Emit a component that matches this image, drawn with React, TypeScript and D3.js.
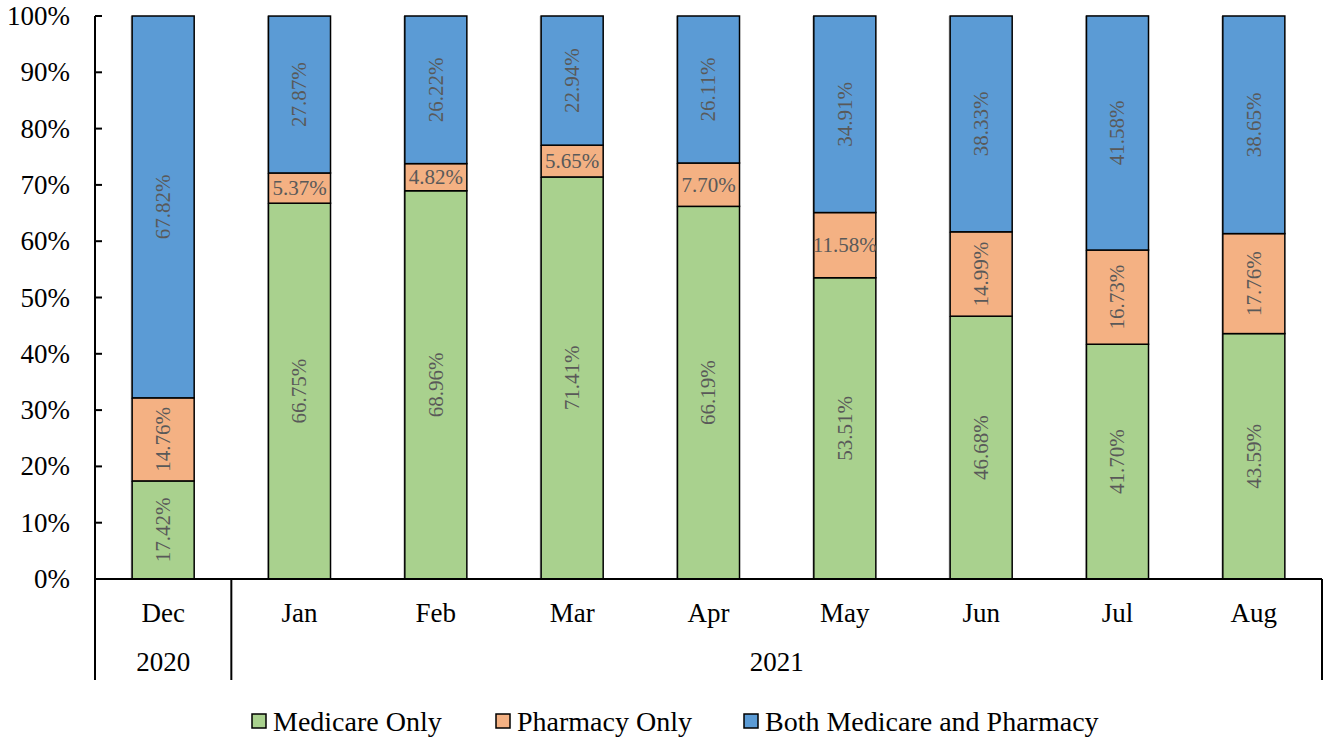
import React from 'react';
import * as d3 from 'd3';

const months = ['Dec', 'Jan', 'Feb', 'Mar', 'Apr', 'May', 'Jun', 'Jul', 'Aug'];
const years = [
  { label: '2020', from: 'Dec', to: 'Dec' },
  { label: '2021', from: 'Jan', to: 'Aug' },
];
const medicareOnly = [17.42, 66.75, 68.96, 71.41, 66.19, 53.51, 46.68, 41.7, 43.59];
const pharmacyOnly = [14.76, 5.37, 4.82, 5.65, 7.7, 11.58, 14.99, 16.73, 17.76];
const bothMedicarePharmacy = [67.82, 27.87, 26.22, 22.94, 26.11, 34.91, 38.33, 41.58, 38.65];
const yTicks = [0, 10, 20, 30, 40, 50, 60, 70, 80, 90, 100];

const seriesNames = ['Medicare Only', 'Pharmacy Only', 'Both Medicare and Pharmacy'];
const seriesColors = ['#A9D18E', '#F4B183', '#5B9BD5'];

const W = 1332;
const H = 745;
const margin = { top: 16, right: 10, bottom: 166, left: 95 };
const font = '"Liberation Serif", "Times New Roman", serif';

export default function App() {
  const width = W - margin.left - margin.right;
  const height = H - margin.top - margin.bottom;

  const rows = months.map((m, i) => ({
    month: m,
    s0: medicareOnly[i],
    s1: pharmacyOnly[i],
    s2: bothMedicarePharmacy[i],
  }));
  const stack = d3.stack<any>().keys(['s0', 's1', 's2'])(rows);

  const x = d3.scaleBand().domain(months).range([0, width]).paddingInner(0.545).paddingOuter(0.2725);
  const y = d3.scaleLinear().domain([0, 100]).range([height, 0]);
  const step = x.step();
  const edge = (m: string) => (x(m) as number) - (step - x.bandwidth()) / 2;

  // legend swatch positions
  const legendX = [252, 496, 744];

  return (
    <svg width={W} height={H} style={{ position: 'absolute', left: 0, top: 0, background: '#fff' }}>
      <g transform={`translate(${margin.left},${margin.top})`}>
        {/* bars */}
        {stack.map((layer, si) => (
          <g key={si}>
            {layer.map((d, i) => {
              const bx = x(months[i]) as number;
              const y0 = y(d[1]);
              const h = y(d[0]) - y(d[1]);
              return (
                <g key={i}>
                  <rect x={bx - 1.5} y={y0} width={x.bandwidth()} height={h} fill="#bfbfbf" />
                  <rect x={bx} y={y0} width={x.bandwidth()} height={h}
                    fill={seriesColors[si]} stroke="#000" strokeWidth={1.5} />
                </g>
              );
            })}
          </g>
        ))}
        {/* data labels */}
        {stack.map((layer, si) => (
          <g key={'l' + si}>
            {layer.map((d, i) => {
              const v = d[1] - d[0];
              const cx = (x(months[i]) as number) + x.bandwidth() / 2;
              const cy = (y(d[0]) + y(d[1])) / 2;
              const rotate = v > 12;
              return (
                <text key={i} x={cx} y={cy} fill="#595959" fontSize={21} fontFamily={font}
                  textAnchor="middle" dominantBaseline="central"
                  transform={rotate ? `rotate(-90,${cx},${cy})` : undefined}>
                  {v.toFixed(2)}%
                </text>
              );
            })}
          </g>
        ))}
        {/* y axis */}
        <line x1={0} x2={0} y1={0} y2={height} stroke="#000" strokeWidth={2} />
        {yTicks.map((t) => (
          <g key={t} transform={`translate(0,${y(t)})`}>
            <line x1={0} x2={7} stroke="#000" strokeWidth={2} />
            <text x={-25} fontSize={27} fontFamily={font} textAnchor="end" dominantBaseline="central">
              {t}%
            </text>
          </g>
        ))}
        {/* category axis */}
        <line x1={0} x2={width} y1={height} y2={height} stroke="#000" strokeWidth={2} />
        {months.map((m) => (
          <text key={m} x={(x(m) as number) + x.bandwidth() / 2} y={height + 34}
            fontSize={27} fontFamily={font} textAnchor="middle" dominantBaseline="central">
            {m}
          </text>
        ))}
        {years.map((yr, i) => {
          const a = edge(yr.from);
          const b = edge(yr.to) + step;
          return (
            <g key={yr.label}>
              {i === 0 && <line x1={a} x2={a} y1={height} y2={height + 101} stroke="#000" strokeWidth={2} />}
              <line x1={b} x2={b} y1={height} y2={height + 101} stroke="#000" strokeWidth={2} />
              <text x={(a + b) / 2} y={height + 83} fontSize={27} fontFamily={font}
                textAnchor="middle" dominantBaseline="central">
                {yr.label}
              </text>
            </g>
          );
        })}
      </g>
      {/* legend */}
      {seriesNames.map((n, i) => (
        <g key={n} transform={`translate(${legendX[i]},721)`}>
          <rect x={0} y={-7} width={14} height={14} fill={seriesColors[i]} stroke="#000" strokeWidth={1.5} />
          <text x={21} fontSize={28} fontFamily={font} dominantBaseline="central">{n}</text>
        </g>
      ))}
    </svg>
  );
}
